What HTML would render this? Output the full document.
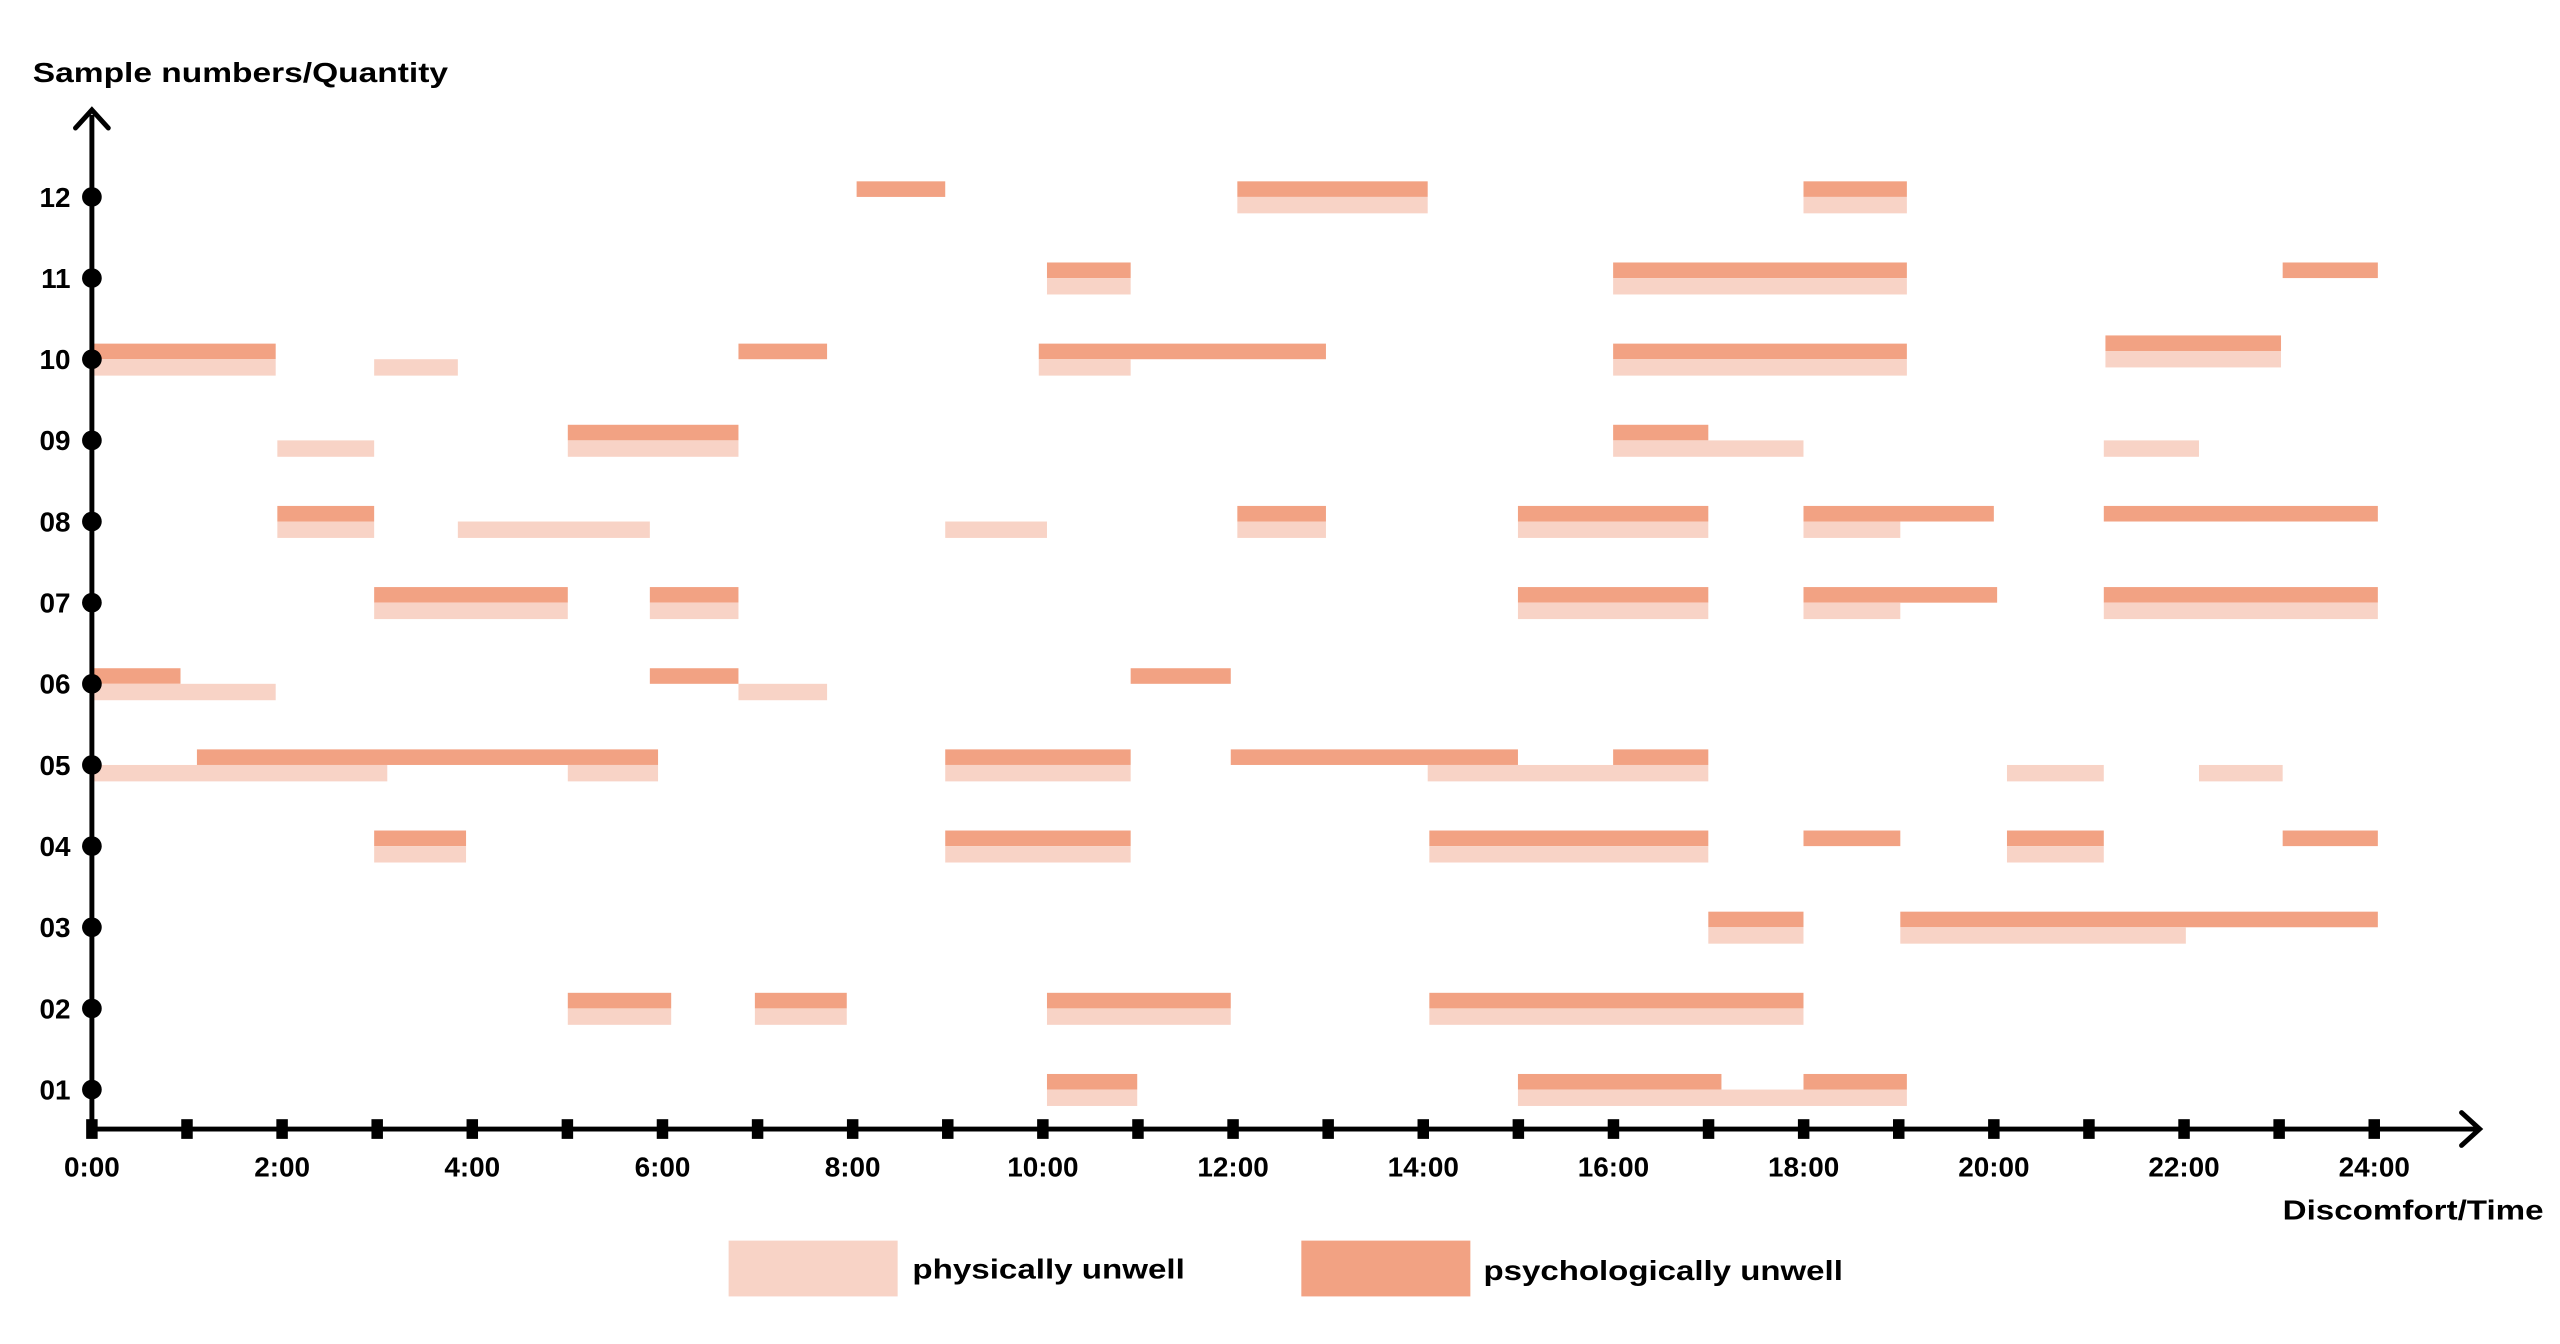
<!DOCTYPE html>
<html><head><meta charset="utf-8"><style>html,body{margin:0;padding:0;background:#fff;}svg{display:block}</style></head>
<body>
<svg width="2560" height="1344" viewBox="0 0 1560 819" xmlns="http://www.w3.org/2000/svg" font-family="Liberation Sans, sans-serif" font-weight="bold">
<g id="bars"></g>
<!-- axes -->
<line x1="56" y1="688" x2="56" y2="70" stroke="#000" stroke-width="3"/>
<polyline points="46,78 56,67 66,78" fill="none" stroke="#000" stroke-width="3" stroke-linecap="round"/>
<line x1="56" y1="688" x2="1510" y2="688" stroke="#000" stroke-width="3"/>
<polyline points="1500,678 1511,688 1500,698" fill="none" stroke="#000" stroke-width="3" stroke-linecap="round"/>
<g id="ticks"></g>
<g id="dots"></g>
<g font-size="17" fill="#000">
<text x="20" y="50" textLength="253" lengthAdjust="spacingAndGlyphs">Sample numbers/Quantity</text>
<text x="1550" y="743" text-anchor="end" textLength="159" lengthAdjust="spacingAndGlyphs">Discomfort/Time</text>
<text x="556" y="779" textLength="166" lengthAdjust="spacingAndGlyphs">physically unwell</text>
<text x="904" y="780" textLength="219" lengthAdjust="spacingAndGlyphs">psychologically unwell</text>
</g>
<rect x="444" y="756" width="103" height="34" fill="#F8D3C6"/>
<rect x="793" y="756" width="103" height="34" fill="#F2A283"/>
<g id="labels" font-size="17"></g>
</svg>
<script>
var NS="http://www.w3.org/2000/svg";
function el(p,t,a,txt){var e=document.createElementNS(NS,t);for(var k in a)e.setAttribute(k,a[k]);if(txt)e.textContent=txt;document.getElementById(p).appendChild(e);}
var rowY=function(r){return 120+(12-r)*49.45;};
var D="#F2A283",L="#F8D3C6";
// [row, x1, x2, type] d=dark above, l=light below
var bars=[
[12,522,576,'d'],[12,754,870,'d'],[12,754,870,'l'],[12,1099,1162,'d'],[12,1099,1162,'l'],
[11,638,689,'d'],[11,638,689,'l'],[11,983,1162,'d'],[11,983,1162,'l'],[11,1391,1449,'d'],
[10,56,168,'d'],[10,56,168,'l'],[10,228,279,'l'],[10,450,504,'d'],[10,633,808,'d'],[10,633,689,'l'],[10,983,1162,'d'],[10,983,1162,'l'],[10,1283,1390,'d',-5],[10,1283,1390,'l',-5],
[9,169,228,'l'],[9,346,450,'d'],[9,346,450,'l'],[9,983,1041,'d'],[9,983,1099,'l'],[9,1282,1340,'l'],
[8,169,228,'d'],[8,169,228,'l'],[8,279,396,'l'],[8,576,638,'l'],[8,754,808,'d'],[8,754,808,'l'],[8,925,1041,'d'],[8,925,1041,'l'],[8,1099,1215,'d'],[8,1099,1158,'l'],[8,1282,1449,'d'],
[7,228,346,'d'],[7,228,346,'l'],[7,396,450,'d'],[7,396,450,'l'],[7,925,1041,'d'],[7,925,1041,'l'],[7,1099,1217,'d'],[7,1099,1158,'l'],[7,1282,1449,'d'],[7,1282,1449,'l'],
[6,56,110,'d'],[6,56,168,'l'],[6,396,450,'d'],[6,450,504,'l'],[6,689,750,'d'],
[5,56,236,'l'],[5,120,401,'d'],[5,346,401,'l'],[5,576,689,'d'],[5,576,689,'l'],[5,750,925,'d'],[5,870,1041,'l'],[5,983,1041,'d'],[5,1223,1282,'l'],[5,1340,1391,'l'],
[4,228,284,'d'],[4,228,284,'l'],[4,576,689,'d'],[4,576,689,'l'],[4,871,1041,'d'],[4,871,1041,'l'],[4,1099,1158,'d'],[4,1223,1282,'d'],[4,1223,1282,'l'],[4,1391,1449,'d'],
[3,1041,1099,'d'],[3,1041,1099,'l'],[3,1158,1449,'d'],[3,1158,1332,'l'],
[2,346,409,'d'],[2,346,409,'l'],[2,460,516,'d'],[2,460,516,'l'],[2,638,750,'d'],[2,638,750,'l'],[2,871,1099,'d'],[2,871,1099,'l'],
[1,638,693,'d'],[1,638,693,'l'],[1,925,1049,'d'],[1,925,1162,'l'],[1,1099,1162,'d']
];
bars.forEach(function(b){var y=rowY(b[0])+(b[4]||0);
 if(b[3]=='d')el('bars','rect',{x:b[1],y:y-9.5,width:b[2]-b[1],height:9.5,fill:D});
 else el('bars','rect',{x:b[1],y:y,width:b[2]-b[1],height:10,fill:L});});
for(var h=0;h<=24;h++){var x=56+h*57.95;el('ticks','rect',{x:x-3.5,y:682,width:7,height:12,fill:'#000'});
 if(h%2==0)el('labels','text',{x:x,y:717,'text-anchor':'middle'},h+':00');}
for(var r=1;r<=12;r++){var y=rowY(r);el('dots','circle',{cx:56,cy:y,r:6,fill:'#000'});
 el('labels','text',{x:43,y:y+6,'text-anchor':'end'},(r<10?'0':'')+r);}
</script>
</body></html>
